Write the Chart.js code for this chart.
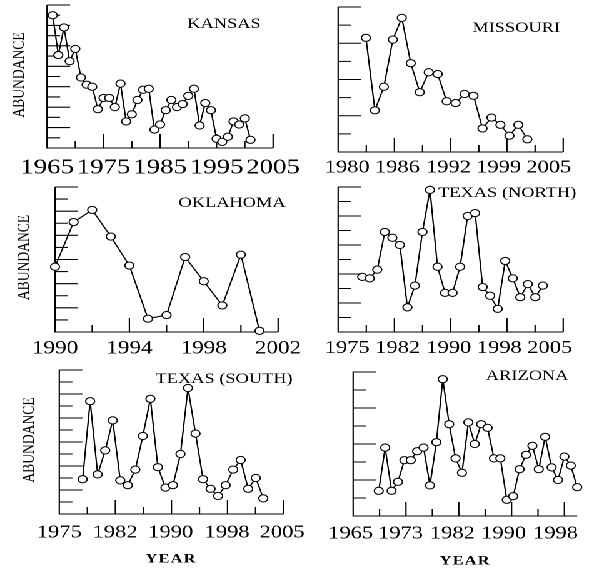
<!DOCTYPE html>
<html>
<head>
<meta charset="utf-8">
<script src="https://cdn.jsdelivr.net/npm/chart.js@4/dist/chart.umd.min.js"></script>
<style>
  body { margin: 0; background: #fff; overflow: hidden; }
  /* the printed figure is stretched sideways, so draw narrow and stretch */
  #wrap { position: absolute; left: 0; top: 0; width: 471px; height: 569px; transform: scaleX(1.2505); transform-origin: 0 0; }
  #wrap canvas { position: absolute; left: 0; top: 0; }
</style>
</head>
<body>
<div id="wrap">
  <canvas id="kansas" width="471" height="569"></canvas>
  <canvas id="missouri" width="471" height="569"></canvas>
  <canvas id="oklahoma" width="471" height="569"></canvas>
  <canvas id="texasNorth" width="471" height="569"></canvas>
  <canvas id="texasSouth" width="471" height="569"></canvas>
  <canvas id="arizona" width="471" height="569"></canvas>
</div>
<script>
// ---- data (abundance in tick units) ----
const kansasYears = [1966, 1967, 1968, 1969, 1970, 1971, 1972, 1973, 1974, 1975, 1976, 1977, 1978, 1979, 1980, 1981, 1982, 1983,
  1984, 1985, 1986, 1987, 1988, 1989, 1990, 1991, 1992, 1993, 1994, 1995, 1996, 1997, 1998, 1999, 2000, 2001];
const kansasValues = [13.0, 9.1, 11.8, 8.5, 9.7, 6.9, 6.2, 6.0, 3.8, 4.9, 4.9, 4.0, 6.3, 2.6, 3.3, 4.7, 5.7, 5.8,
  1.8, 2.3, 3.7, 4.7, 4.0, 4.3, 5.1, 5.8, 2.2, 4.4, 3.7, 0.9, 0.6, 1.1, 2.6, 2.3, 2.9, 0.8];
const kansasTicks = ["1965", "1975", "1985", "1995", "2005"];
const kansasTickAt = [1965, 1975, 1985, 1995, 2005];

const missouriYears = [1982, 1983, 1984, 1985, 1986, 1987, 1988, 1989, 1990, 1991, 1992, 1993, 1994, 1995, 1996, 1997, 1998, 1999, 2000];
const missouriValues = [6.3, 2.3, 3.6, 6.2, 7.4, 4.9, 3.3, 4.4, 4.3, 2.8, 2.7, 3.2, 3.1, 1.3, 1.9, 1.5, 0.9, 1.5, 0.7];
const missouriTicks = ["1980", "1986", "1992", "1999", "2005"];
const missouriTickAt = [1979.9, 1985.5, 1991.2, 1996.8, 2002.4];

const oklahomaYears = [1990, 1991, 1992, 1993, 1994, 1995, 1996, 1997, 1998, 1999, 2000, 2001];
const oklahomaValues = [5.4, 9.1, 10.1, 7.9, 5.5, 1.1, 1.4, 6.2, 4.2, 2.2, 6.4, 0.1];
const oklahomaTicks = ["1990", "1994", "1998", "2002"];
const oklahomaTickAt = [1990, 1994, 1998, 2002];

const texasNorthYears = [1977, 1978, 1979, 1980, 1981, 1982, 1983, 1984, 1985, 1986, 1987, 1988, 1989,
  1990, 1991, 1992, 1993, 1994, 1995, 1996, 1997, 1998, 1999, 2000, 2001];
const texasNorthValues = [3.8, 3.7, 4.3, 6.9, 6.5, 6.0, 1.7, 3.2, 6.9, 9.8, 4.5, 2.7, 2.7,
  4.5, 8.0, 8.2, 3.1, 2.5, 1.6, 4.9, 3.7, 2.4, 3.3, 2.4, 3.2];
const texasNorthTicks = ["1975", "1982", "1990", "1998", "2005"];
const texasNorthTickAt = [1975.0, 1981.7, 1988.5, 1995.2, 2001.9];

const texasSouthYears = [1977, 1978, 1979, 1980, 1981, 1982, 1983, 1984, 1985, 1986, 1987, 1988, 1989,
  1990, 1991, 1992, 1993, 1994, 1995, 1996, 1997, 1998, 1999, 2000, 2001];
const texasSouthValues = [2.9, 9.4, 3.3, 5.3, 7.8, 2.8, 2.4, 3.7, 6.5, 9.6, 3.9, 2.2, 2.4,
  5.0, 10.5, 6.7, 2.9, 2.1, 1.5, 2.4, 3.7, 4.5, 2.1, 3.0, 1.3];
const texasSouthTicks = ["1975", "1982", "1990", "1998", "2005"];
const texasSouthTickAt = [1973.9, 1981.3, 1988.7, 1996.2, 2003.5];

const arizonaYears = [1969, 1970, 1971, 1972, 1973, 1974, 1975, 1976, 1977, 1978, 1979, 1980, 1981, 1982, 1983, 1984,
  1985, 1986, 1987, 1988, 1989, 1990, 1991, 1992, 1993, 1994, 1995, 1996, 1997, 1998, 1999, 2000];
const arizonaValues = [1.4, 3.8, 1.4, 1.9, 3.1, 3.1, 3.6, 3.8, 1.7, 4.1, 7.6, 5.1, 3.2, 2.4, 5.2, 4.0,
  5.1, 4.9, 3.2, 3.2, 0.9, 1.1, 2.6, 3.4, 3.9, 2.6, 4.4, 2.7, 2.0, 3.3, 2.8, 1.6];
const arizonaTicks = ["1965", "1973", "1982", "1990", "1998"];
const arizonaTickAt = [1964.6, 1972.4, 1980.5, 1988.5, 1996.6];

const W = 471, H = 569, AXIS_H = 40;
const SERIF = "'Liberation Serif', 'Times New Roman', serif";

// axes, inward tick marks and the panel texts
const framePlugin = {
  id: "panelFrame",
  beforeDatasetsDraw(chart, args, opts) {
    const ctx = chart.ctx;
    const a = chart.chartArea;
    const xs = chart.scales.x;
    const ys = chart.scales.y;
    ctx.save();
    ctx.strokeStyle = "#000";
    ctx.lineWidth = 1.1;
    ctx.beginPath();
    ctx.moveTo(a.left, a.top);
    ctx.lineTo(a.left, a.bottom);
    ctx.lineTo(a.right, a.bottom);
    for (let v = 1; v <= ys.max; v++) {
      const y = ys.getPixelForValue(v);
      ctx.moveTo(a.left, y);
      ctx.lineTo(a.left + (v % 2 ? 10.5 : 18.5), y);
    }
    const step = (opts.tickTo - opts.tickFrom) / opts.tickCount;
    for (let k = 1; k <= opts.tickCount; k++) {
      const x = xs.getPixelForValue(opts.tickFrom + k * step);
      ctx.moveTo(x, a.bottom);
      ctx.lineTo(x, a.bottom - (k % 2 ? 7 : 14));
    }
    ctx.stroke();

    ctx.fillStyle = "#000";
    ctx.textAlign = "center";
    ctx.textBaseline = "middle";
    ctx.font = "14.7px " + SERIF;
    ctx.fillText(opts.title, opts.titleX, opts.titleY);
    if (opts.yTitleX) {
      ctx.save();
      ctx.translate(opts.yTitleX, opts.yTitleY);
      ctx.rotate(-Math.PI / 2);
      ctx.font = "13.6px " + SERIF;
      ctx.fillText("ABUNDANCE", 0, 0);
      ctx.restore();
    }
    if (opts.xTitleX) {
      ctx.font = "bold 13px " + SERIF;
      ctx.letterSpacing = "1px";
      ctx.fillText("YEAR", opts.xTitleX, opts.xTitleY);
    }
    ctx.restore();
  }
};

function makePanel(id, years, values, tickAt, tickText, p) {
  new Chart(document.getElementById(id), {
    type: "line",
    data: {
      datasets: [{
        data: years.map((yr, i) => ({ x: yr, y: values[i] })),
        borderColor: "#000",
        borderWidth: 1.1,
        pointRadius: 3.6,
        pointBackgroundColor: "#fff",
        pointBorderColor: "#000",
        pointBorderWidth: 1,
        tension: 0,
        clip: false
      }]
    },
    options: {
      responsive: false,
      animation: false,
      devicePixelRatio: 2,
      events: [],
      layout: {
        autoPadding: false,
        padding: { left: p.left, right: W - p.right, top: p.top, bottom: H - p.bottom - AXIS_H }
      },
      plugins: {
        legend: { display: false },
        tooltip: { enabled: false },
        panelFrame: p
      },
      scales: {
        x: {
          type: "linear",
          min: p.xMin,
          max: p.xMax,
          grid: { display: false, drawTicks: false },
          border: { display: false },
          afterFit: (s) => { s.height = AXIS_H; },
          afterBuildTicks: (s) => { s.ticks = tickAt.map((v) => ({ value: v })); },
          ticks: {
            autoSkip: false,
            maxRotation: 0,
            padding: p.labelPad,
            color: "#000",
            font: { family: SERIF, size: p.labelSize },
            callback: (v, i) => tickText[i]
          }
        },
        y: { display: false, min: 0, max: p.yMax }
      }
    },
    plugins: [framePlugin]
  });
}

makePanel("kansas", kansasYears, kansasValues, kansasTickAt, kansasTicks, {
  left: 37.6, right: 218.4, top: 5, bottom: 148, xMin: 1965, xMax: 2005, yMax: 14,
  tickFrom: 1965, tickTo: 2005, tickCount: 8, labelSize: 21.5, labelPad: 7,
  title: "KANSAS", titleX: 179.2, titleY: 24, yTitleX: 15.2, yTitleY: 75
});
makePanel("missouri", missouriYears, missouriValues, missouriTickAt, missouriTicks, {
  left: 270.4, right: 450.4, top: 7, bottom: 152, xMin: 1978.9, xMax: 2004.0, yMax: 8,
  tickFrom: 1978.9, tickTo: 2004.0, tickCount: 8, labelSize: 18, labelPad: 5,
  title: "MISSOURI", titleX: 412.8, titleY: 28
});
makePanel("oklahoma", oklahomaYears, oklahomaValues, oklahomaTickAt, oklahomaTicks, {
  left: 44, right: 222.4, top: 187, bottom: 332, xMin: 1990, xMax: 2002, yMax: 12,
  tickFrom: 1990, tickTo: 2002, tickCount: 6, labelSize: 18.5, labelPad: 5.5,
  title: "OKLAHOMA", titleX: 185.6, titleY: 203, yTitleX: 19.2, yTitleY: 257.5
});
makePanel("texasNorth", texasNorthYears, texasNorthValues, texasNorthTickAt, texasNorthTicks, {
  left: 270.4, right: 450.4, top: 187, bottom: 332, xMin: 1973.8, xMax: 2003.7, yMax: 10,
  tickFrom: 1973.8, tickTo: 2003.7, tickCount: 8, labelSize: 18, labelPad: 5.5,
  title: "TEXAS (NORTH)", titleX: 405.6, titleY: 193
});
makePanel("texasSouth", texasSouthYears, texasSouthValues, texasSouthTickAt, texasSouthTicks, {
  left: 47.4, right: 226.8, top: 370, bottom: 514, xMin: 1973.9, xMax: 2003.7, yMax: 12,
  tickFrom: 1973.9, tickTo: 2003.7, tickCount: 8, labelSize: 18, labelPad: 8,
  title: "TEXAS (SOUTH)", titleX: 179.2, titleY: 379, yTitleX: 23.2, yTitleY: 440,
  xTitleX: 136.8, xTitleY: 559
});
makePanel("arizona", arizonaYears, arizonaValues, arizonaTickAt, arizonaTicks, {
  left: 282.4, right: 461.6, top: 372, bottom: 516, xMin: 1965, xMax: 2000, yMax: 8,
  tickFrom: 1965, tickTo: 1998, tickCount: 8, labelSize: 18, labelPad: 7,
  title: "ARIZONA", titleX: 421.6, titleY: 376, xTitleX: 372, xTitleY: 561
});
</script>
</body>
</html>
